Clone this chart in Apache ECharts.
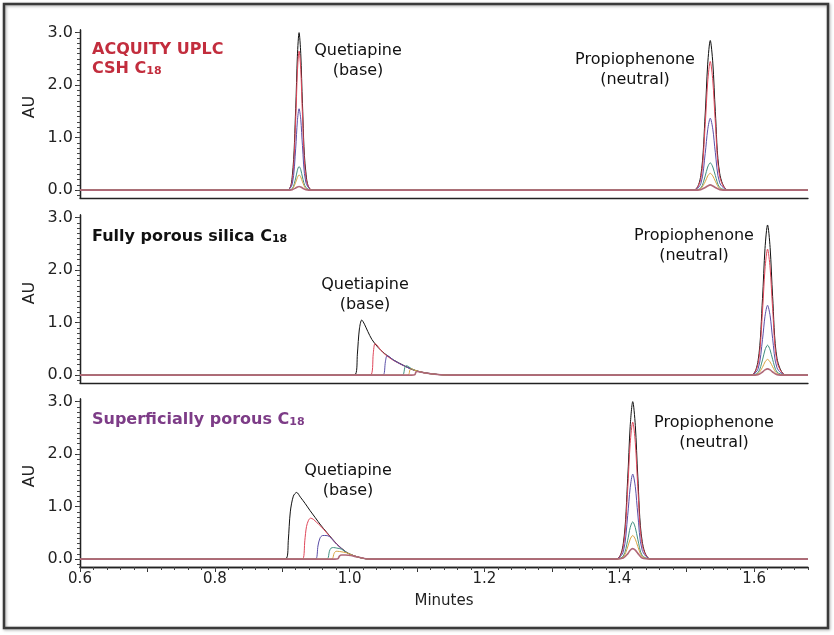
<!DOCTYPE html>
<html>
<head>
<meta charset="utf-8">
<script src="https://cdn.jsdelivr.net/npm/echarts@6/dist/echarts.min.js"></script>
<style>
html,body{margin:0;padding:0;background:#fff;}
#chart{width:834px;height:635px;}
</style>
</head>
<body>
<div id="chart"></div>
<script>
// ---------- Data ----------
const traceColors = ['#111111', '#e0475a', '#5b4fa8', '#3f8f7f', '#d9a441', '#b06878'];
const xRange = [0.6, 1.68];
const xLabelValues = [0.6, 0.8, 1.0, 1.2, 1.4, 1.6];
const yLabelValues = [0, 1, 2, 3];

// Panel 1: ACQUITY UPLC CSH C18 — Quetiapine peak (times, then AU per trace)
const cshQuetTimes = [0.907, 0.915, 0.920, 0.9225, 0.925, 0.9275, 0.930, 0.935, 0.945];
const cshQuetAU = [
  [0, 0.28, 1.55, 2.55, 3.00, 2.60, 1.65, 0.35, 0],
  [0, 0.20, 1.35, 2.25, 2.65, 2.30, 1.45, 0.26, 0],
  [0, 0.12, 0.80, 1.32, 1.55, 1.35, 0.85, 0.15, 0],
  [0, 0.03, 0.23, 0.38, 0.45, 0.39, 0.25, 0.05, 0],
  [0, 0.02, 0.15, 0.24, 0.29, 0.25, 0.16, 0.03, 0],
  [0, 0.01, 0.04, 0.06, 0.07, 0.06, 0.04, 0.01, 0]
];
// Panel 1 — Propiophenone peak
const cshPropTimes = [1.510, 1.521, 1.5275, 1.5312, 1.535, 1.5388, 1.5425, 1.549, 1.562];
const cshPropAU = [
  [0, 0.28, 1.45, 2.40, 2.85, 2.42, 1.50, 0.32, 0],
  [0, 0.22, 1.25, 2.06, 2.45, 2.08, 1.30, 0.26, 0],
  [0, 0.12, 0.70, 1.15, 1.37, 1.16, 0.72, 0.14, 0],
  [0, 0.04, 0.27, 0.44, 0.52, 0.44, 0.28, 0.05, 0],
  [0, 0.03, 0.16, 0.27, 0.32, 0.27, 0.17, 0.03, 0],
  [0, 0.01, 0.05, 0.08, 0.10, 0.08, 0.05, 0.01, 0]
];

// Panel 2: Fully porous silica C18 — Quetiapine (overloaded, [min, AU] per trace)
const fpQuetPoints = [
  [[1.000,0],[1.009,0.02],[1.0115,0.40],[1.0145,0.88],[1.018,1.05],[1.022,0.97],[1.027,0.83],[1.033,0.68],[1.042,0.53],[1.052,0.41],[1.065,0.29],[1.081,0.18],[1.095,0.10],[1.110,0.05],[1.130,0.015],[1.150,0]],
  [[1.025,0],[1.0325,0.02],[1.035,0.40],[1.0375,0.60],[1.040,0.58],[1.046,0.48],[1.052,0.40],[1.065,0.28],[1.081,0.175],[1.095,0.095],[1.110,0.045],[1.130,0.013],[1.150,0]],
  [[1.045,0],[1.0505,0.01],[1.053,0.25],[1.0555,0.37],[1.058,0.36],[1.065,0.285],[1.081,0.175],[1.095,0.095],[1.110,0.045],[1.130,0.012],[1.150,0]],
  [[1.075,0],[1.0795,0.01],[1.082,0.15],[1.0845,0.18],[1.088,0.155],[1.095,0.10],[1.110,0.045],[1.130,0.012],[1.150,0]],
  [[1.083,0],[1.0875,0.01],[1.0895,0.10],[1.0915,0.125],[1.095,0.10],[1.110,0.045],[1.130,0.012],[1.150,0]],
  [[1.092,0],[1.0965,0.005],[1.0985,0.06],[1.1005,0.07],[1.105,0.06],[1.115,0.035],[1.130,0.012],[1.150,0]]
];
// Panel 2 — Propiophenone peak
const fpPropTimes = [1.595, 1.606, 1.6125, 1.6162, 1.620, 1.6238, 1.6275, 1.634, 1.647];
const fpPropAU = [
  [0, 0.28, 1.46, 2.41, 2.86, 2.43, 1.50, 0.32, 0],
  [0, 0.22, 1.22, 2.02, 2.40, 2.04, 1.27, 0.26, 0],
  [0, 0.12, 0.68, 1.12, 1.33, 1.13, 0.70, 0.14, 0],
  [0, 0.05, 0.29, 0.48, 0.57, 0.48, 0.30, 0.06, 0],
  [0, 0.03, 0.15, 0.25, 0.30, 0.25, 0.16, 0.03, 0],
  [0, 0.01, 0.06, 0.10, 0.12, 0.10, 0.06, 0.01, 0]
];

// Panel 3: Superficially porous C18 — Quetiapine (overloaded)
const spQuetPoints = [
  [[0.895,0],[0.9065,0.02],[0.909,0.35],[0.912,0.90],[0.9165,1.20],[0.9214,1.27],[0.927,1.18],[0.934,1.06],[0.941,0.93],[0.949,0.79],[0.957,0.65],[0.966,0.51],[0.981,0.29],[0.9956,0.13],[1.010,0.05],[1.030,0]],
  [[0.925,0],[0.931,0.01],[0.9335,0.35],[0.936,0.62],[0.939,0.74],[0.942,0.78],[0.946,0.76],[0.951,0.70],[0.957,0.63],[0.966,0.50],[0.981,0.285],[0.9956,0.125],[1.010,0.048],[1.030,0]],
  [[0.945,0],[0.9505,0.01],[0.953,0.25],[0.956,0.40],[0.960,0.45],[0.965,0.45],[0.970,0.43],[0.981,0.28],[0.9956,0.125],[1.010,0.047],[1.030,0]],
  [[0.962,0],[0.9675,0.01],[0.970,0.15],[0.9725,0.21],[0.976,0.22],[0.981,0.21],[0.988,0.19],[0.9956,0.125],[1.010,0.046],[1.030,0]],
  [[0.970,0],[0.9745,0.01],[0.977,0.11],[0.980,0.15],[0.985,0.145],[0.9956,0.12],[1.010,0.045],[1.030,0]],
  [[0.978,0],[0.9825,0.005],[0.985,0.06],[0.988,0.08],[0.994,0.08],[1.002,0.07],[1.010,0.045],[1.030,0]]
];
// Panel 3 — Propiophenone peak
const spPropTimes = [1.395, 1.406, 1.4125, 1.4162, 1.420, 1.4238, 1.4275, 1.434, 1.447];
const spPropAU = [
  [0, 0.30, 1.53, 2.53, 3.00, 2.55, 1.58, 0.34, 0],
  [0, 0.24, 1.33, 2.20, 2.61, 2.22, 1.38, 0.28, 0],
  [0, 0.14, 0.83, 1.36, 1.62, 1.38, 0.86, 0.17, 0],
  [0, 0.06, 0.36, 0.60, 0.71, 0.60, 0.38, 0.07, 0],
  [0, 0.04, 0.23, 0.38, 0.45, 0.38, 0.24, 0.05, 0],
  [0, 0.02, 0.10, 0.17, 0.20, 0.17, 0.11, 0.02, 0]
];

// ---------- Build ----------
function zip(times, vals) { return times.map((t, i) => [t, vals[i]]); }

const panels = [
  { quet: cshQuetAU.map(v => zip(cshQuetTimes, v)), prop: cshPropAU.map(v => zip(cshPropTimes, v)) },
  { quet: fpQuetPoints, prop: fpPropAU.map(v => zip(fpPropTimes, v)) },
  { quet: spQuetPoints, prop: spPropAU.map(v => zip(spPropTimes, v)) }
];

const gridTops = [30, 215, 399];
const FONT = '"DejaVu Sans", Verdana, sans-serif';

// minor tick positions (axis decoration only)
const minorYVals = [];
for (let i = -1; i <= 30; i++) minorYVals.push(i / 10);
const minorXVals = [];
for (let i = 30; i <= 84; i++) minorXVals.push(i / 50);
const majorXVals = [];
for (let i = 6; i <= 16; i++) majorXVals.push(i / 10);

const grid = [], xAxis = [], yAxis = [], series = [];
gridTops.forEach((top, k) => {
  grid.push({ left: 80, width: 728, top: top, height: 168 });
  const last = k === 2;
  xAxis.push({
    type: 'value', gridIndex: k, min: xRange[0], max: xRange[1], position: 'bottom',
    axisLine: { show: true, onZero: false, lineStyle: { color: '#222', width: 1.3 } },
    splitLine: { show: false },
    axisTick: { show: last, customValues: majorXVals, length: 5, lineStyle: { color: '#333' } },
    axisLabel: { show: last, customValues: xLabelValues, formatter: v => v.toFixed(1),
      fontFamily: FONT, fontSize: 15, color: '#222', margin: 5 },
    name: last ? 'Minutes' : '', nameLocation: 'middle', nameGap: 27,
    nameTextStyle: { fontFamily: FONT, fontSize: 15, color: '#222' }
  });
  xAxis.push({
    type: 'value', gridIndex: k, min: xRange[0], max: xRange[1], position: 'bottom',
    axisLine: { show: last, onZero: false, lineStyle: { color: '#222', width: 1.3 } },
    splitLine: { show: false }, axisLabel: { show: false },
    axisTick: { show: last, customValues: minorXVals, length: 3, lineStyle: { color: '#444' } }
  });
  yAxis.push({
    type: 'value', gridIndex: k, min: -0.15, max: 3.05, position: 'left',
    axisLine: { show: true, lineStyle: { color: '#222', width: 1.3 } },
    splitLine: { show: false },
    axisTick: { show: true, customValues: yLabelValues, length: 5, lineStyle: { color: '#333' } },
    axisLabel: { customValues: yLabelValues, formatter: v => v.toFixed(1),
      fontFamily: FONT, fontSize: 16, color: '#222', margin: 7 }
  });
  yAxis.push({
    type: 'value', gridIndex: k, min: -0.15, max: 3.05, position: 'left',
    axisLine: { show: true, lineStyle: { color: '#222', width: 1.3 } },
    splitLine: { show: false }, axisLabel: { show: false },
    axisTick: { show: true, customValues: minorYVals, length: 3, lineStyle: { color: '#444' } }
  });
  const p = panels[k];
  traceColors.forEach((c, i) => {
    const data = [[xRange[0], 0]].concat(p.quet[i], p.prop[i], [[xRange[1], 0]]);
    series.push({
      type: 'line', xAxisIndex: k * 2, yAxisIndex: k * 2, data: data,
      showSymbol: false, symbol: 'none', smooth: 0.3, silent: true,
      lineStyle: { color: c, width: i === 5 ? 1.6 : 1 }, z: 2 + i
    });
  });
});

function txt(x, y, text) {
  return { type: 'text', x: x, y: y, style: {
    text: text, fill: '#111', font: '16px ' + FONT, align: 'center', verticalAlign: 'middle'
  } };
}
function title(x, y, text, color) {
  return { type: 'text', x: x, y: y, style: {
    text: text, fill: color, align: 'left', verticalAlign: 'middle',
    rich: {
      m: { fontFamily: FONT, fontSize: 16, fontWeight: 'bold', color: color, lineHeight: 20, verticalAlign: 'bottom' },
      s: { fontFamily: FONT, fontSize: 11, fontWeight: 'bold', color: color, lineHeight: 12, verticalAlign: 'bottom', padding: [3, 0, 0, 0] }
    }
  } };
}

const graphic = [
  { type: 'rect', shape: { x: 4, y: 4, width: 824, height: 624 }, style: { fill: 'none', stroke: '#3a3a3a', lineWidth: 2.5, shadowBlur: 3, shadowColor: 'rgba(0,0,0,0.35)', shadowOffsetX: 1, shadowOffsetY: 1 } },
  title(92, 48, '{m|ACQUITY UPLC}', '#c22d3d'),
  title(92, 67, '{m|CSH C}{s|18}', '#c22d3d'),
  title(92, 235, '{m|Fully porous silica C}{s|18}', '#111'),
  title(92, 418, '{m|Superficially porous C}{s|18}', '#7d3c87'),
  txt(358, 51, 'Quetiapine'), txt(358, 71, '(base)'),
  txt(635, 60, 'Propiophenone'), txt(635, 80, '(neutral)'),
  txt(365, 285, 'Quetiapine'), txt(365, 305, '(base)'),
  txt(694, 236, 'Propiophenone'), txt(694, 256, '(neutral)'),
  txt(348, 471, 'Quetiapine'), txt(348, 491, '(base)'),
  txt(714, 423, 'Propiophenone'), txt(714, 443, '(neutral)')
];
[107, 293, 476].forEach(y => graphic.push({ type: 'text', x: 30, y: y, rotation: Math.PI / 2,
  style: { text: 'AU', fill: '#222', font: '16px ' + FONT, align: 'center', verticalAlign: 'middle' } }));

const chart = echarts.init(document.getElementById('chart'), null, { renderer: 'canvas' });
chart.setOption({ animation: false, backgroundColor: '#fff', grid, xAxis, yAxis, series, graphic });
</script>
</body>
</html>
